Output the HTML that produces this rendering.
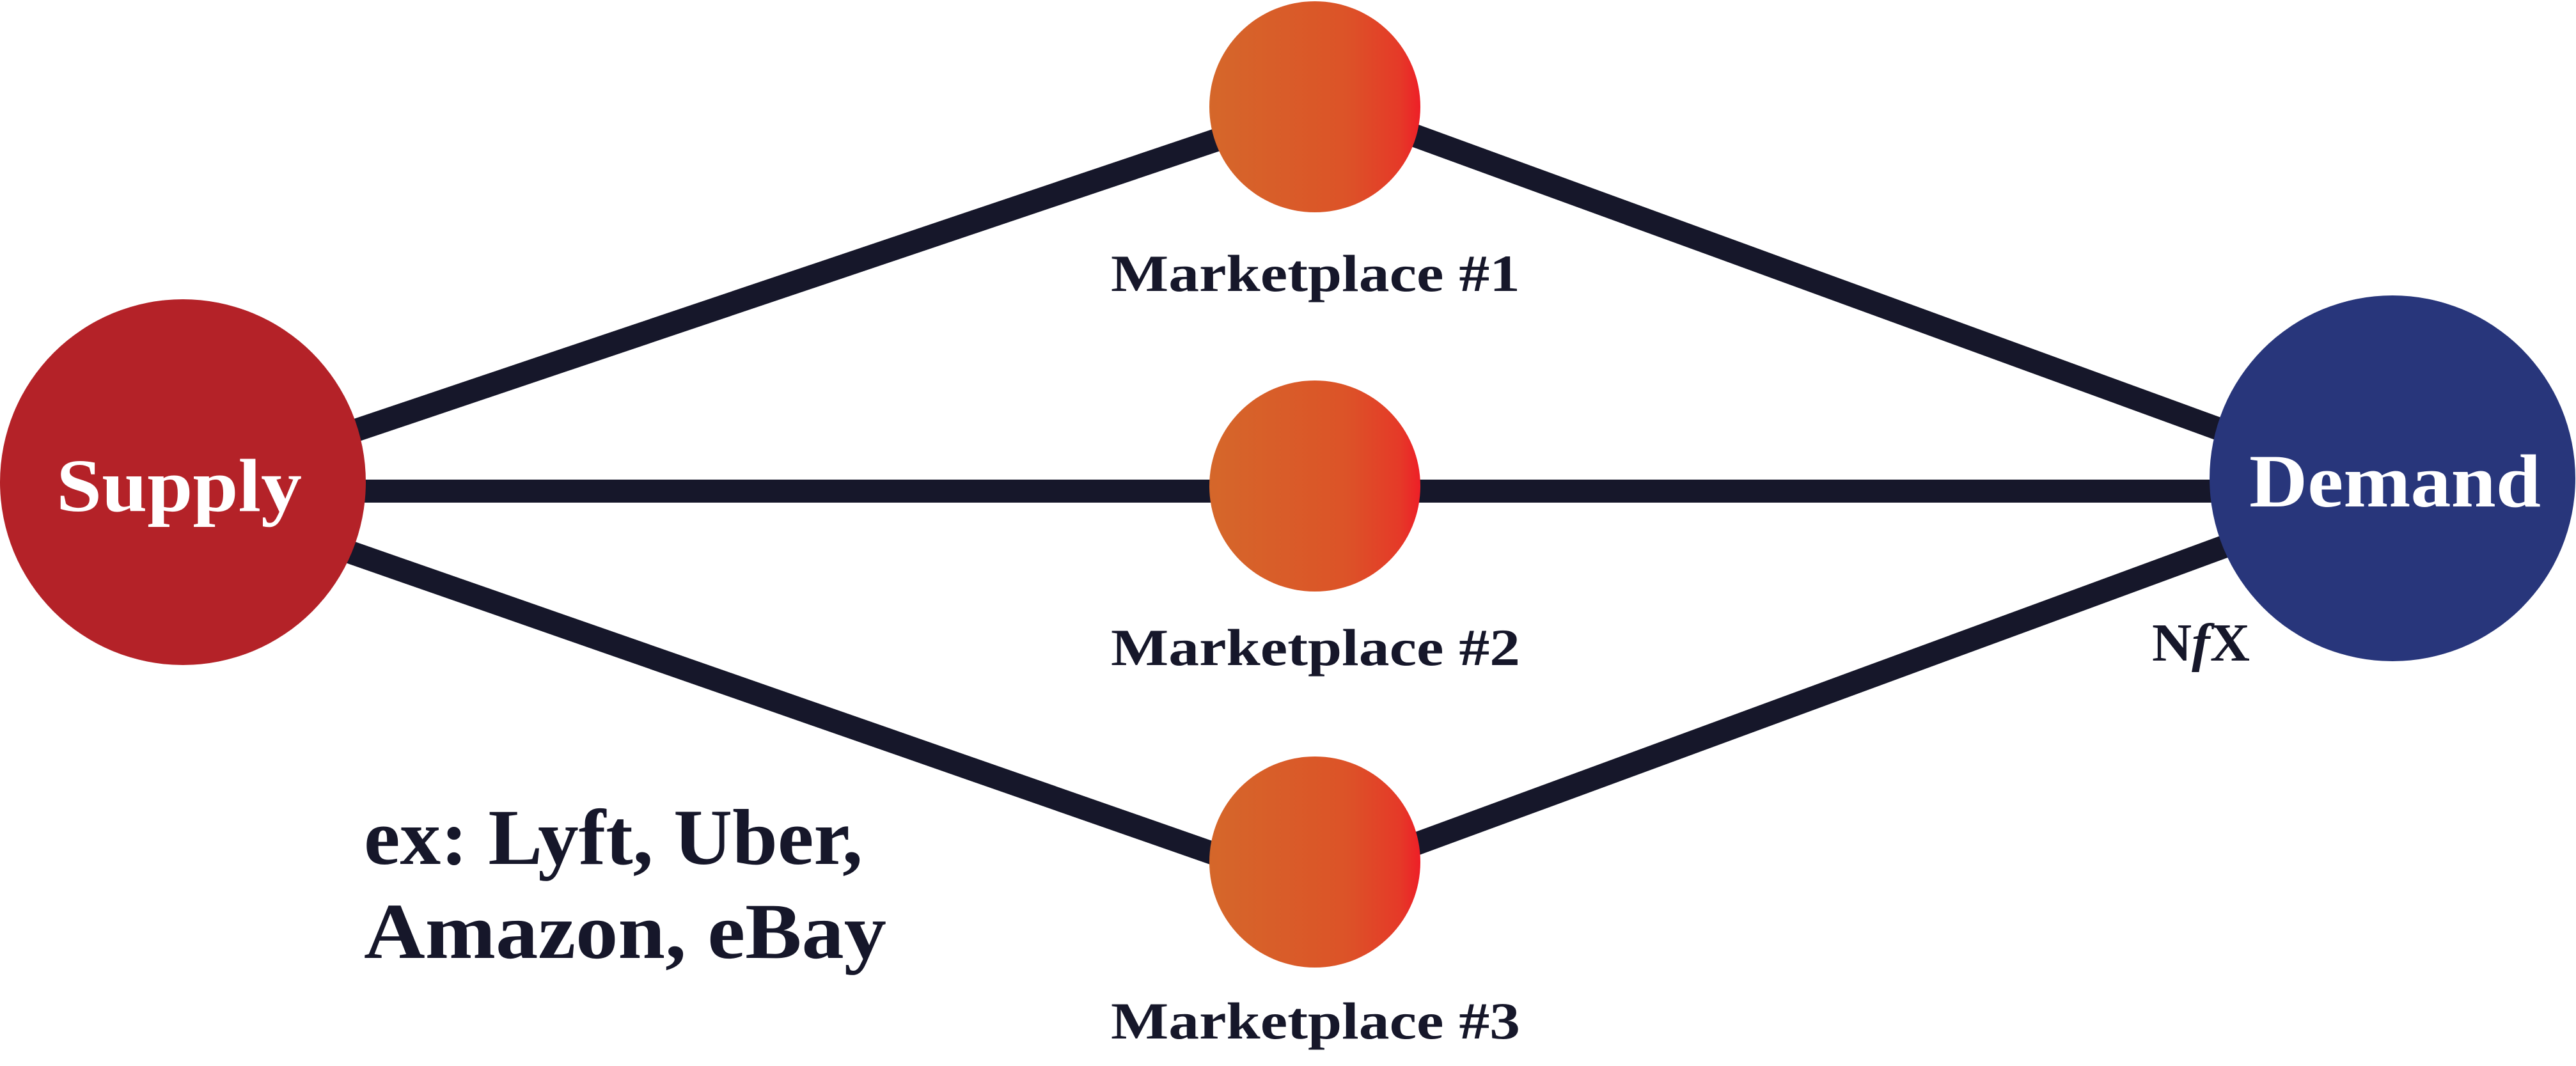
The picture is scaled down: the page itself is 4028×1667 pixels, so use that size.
<!DOCTYPE html>
<html><head><meta charset="utf-8"><style>
html,body{margin:0;padding:0;background:#fff;}
svg{display:block;}
</style></head><body>
<svg width="4028" height="1667" viewBox="0 0 4028 1667" xmlns="http://www.w3.org/2000/svg">
<defs>
<linearGradient id="g" x1="0" y1="0" x2="1" y2="0">
<stop offset="0" stop-color="#d5672a"/>
<stop offset="0.65" stop-color="#dc5328"/>
<stop offset="0.9" stop-color="#e53a28"/>
<stop offset="1" stop-color="#ee1f27"/>
</linearGradient>
</defs>
<g stroke="#16172a" stroke-width="36" stroke-linecap="butt">
<line x1="420" y1="719" x2="2056" y2="167"/>
<line x1="286" y1="768" x2="3740" y2="768"/>
<line x1="420" y1="819" x2="2056" y2="1390"/>
<line x1="2056" y1="155" x2="3741" y2="770"/>
<line x1="2056" y1="1378" x2="3741" y2="758"/>
</g>
<circle cx="286" cy="754" r="286" fill="#b42228"/>
<circle cx="3741" cy="748" r="286" fill="#28367b"/>
<circle cx="2056" cy="167" r="165" fill="url(#g)"/>
<circle cx="2056" cy="760" r="165" fill="url(#g)"/>
<circle cx="2056" cy="1348" r="165" fill="url(#g)"/>
<g font-family="'Liberation Serif', serif" font-weight="bold">
<text x="88" y="799" font-size="118" fill="#fff" textLength="384" lengthAdjust="spacingAndGlyphs">Supply</text>
<text x="3517" y="792" font-size="118" fill="#fff" textLength="456" lengthAdjust="spacingAndGlyphs">Demand</text>
<g fill="#16172a" font-size="82">
<text x="1737" y="455" textLength="640" lengthAdjust="spacingAndGlyphs">Marketplace #1</text>
<text x="1737" y="1040" textLength="640" lengthAdjust="spacingAndGlyphs">Marketplace #2</text>
<text x="1737" y="1624" textLength="640" lengthAdjust="spacingAndGlyphs">Marketplace #3</text>
<text x="569" y="1351" font-size="124" textLength="780" lengthAdjust="spacingAndGlyphs">ex: Lyft, Uber,</text>
<text x="569" y="1498" font-size="124" textLength="817" lengthAdjust="spacingAndGlyphs">Amazon, eBay</text>
<text x="3365" y="1033" font-size="84" textLength="153" lengthAdjust="spacingAndGlyphs">N<tspan font-style="italic">f</tspan>X</text>
</g>
</g>
</svg>
</body></html>
